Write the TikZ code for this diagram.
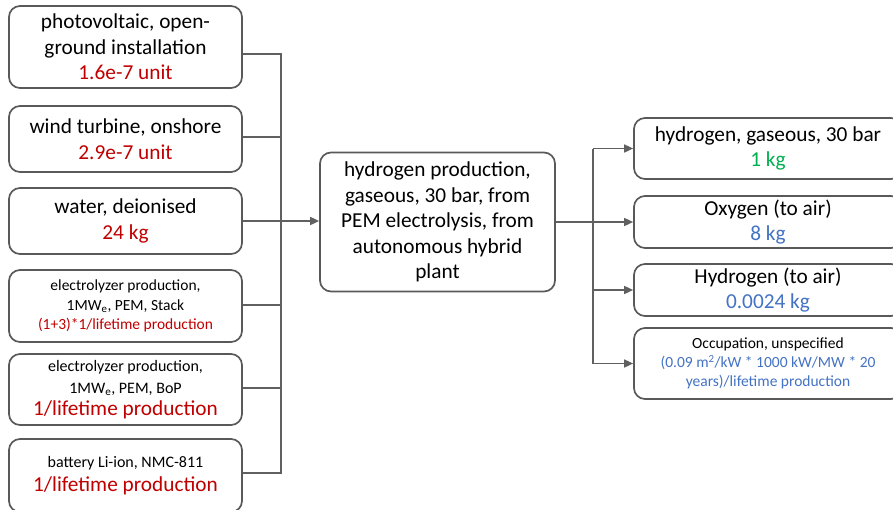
\documentclass[tikz,border=0pt]{standalone}
\usepackage{fontspec}
\setmainfont{Carlito}
\usetikzlibrary{arrows.meta,calc}
\definecolor{boxline}{HTML}{595959}
\definecolor{connc}{HTML}{606060}
\definecolor{qred}{HTML}{C00000}
\definecolor{qgreen}{HTML}{00B050}
\definecolor{qblue}{HTML}{4472C4}
\begin{document}
\begin{tikzpicture}[x=1pt,y=-1pt,
 box/.style={draw=boxline, line width=1.7pt, rounded corners=11pt, fill=white, align=center, inner sep=0pt},
 big/.style={font=\fontsize{21.3}{25.5}\selectfont},
 small/.style={font=\fontsize{15.5}{19.5}\selectfont},
 conn/.style={draw=connc, line width=1.6pt},
 arr/.style={conn, -{Triangle[length=9pt,width=8pt]}}]
\useasboundingbox (0,0) rectangle (893,509);
% left inputs
\node[box, big, minimum width=233pt, minimum height=82pt] (b1) at (125.5,47)
 {photovoltaic, open-\\ground installation\\\textcolor{qred}{1.6e-7 unit}};
\node[box, big, minimum width=233pt, minimum height=66pt] (b2) at (125.5,139)
 {wind turbine, onshore\\\textcolor{qred}{2.9e-7 unit}};
\node[box, big, minimum width=233pt, minimum height=66pt] (b3) at (125.5,221)
 {water, deionised\\\textcolor{qred}{24 kg}};
\node[box, small, minimum width=233pt, minimum height=72pt] (b4) at (125.5,306)
 {electrolyzer production,\\1MW\textsubscript{e}, PEM, Stack\\\textcolor{qred}{(1+3)*1/lifetime production}};
\node[box, font=\fontsize{16}{22}\selectfont, minimum width=233pt, minimum height=71pt] (b5) at (125.5,389.5)
 {electrolyzer production,\\1MW\textsubscript{e}, PEM, BoP\\\fontsize{21.3}{22}\selectfont\textcolor{qred}{1/lifetime production}};
\node[box, font=\fontsize{16}{24}\selectfont, minimum width=233pt, minimum height=73pt] (b6) at (125.5,475.5)
 {battery Li-ion, NMC-811\\\fontsize{21.3}{24}\selectfont\textcolor{qred}{1/lifetime production}};
% center
\node[box, big, minimum width=235pt, minimum height=139pt] (c) at (437.5,222)
 {hydrogen production,\\gaseous, 30 bar, from\\PEM electrolysis, from\\autonomous hybrid\\plant};
% outputs
\node[box, big, minimum width=268pt, minimum height=61pt] (rA) at (768,148.5)
 {hydrogen, gaseous, 30 bar\\\textcolor{qgreen}{1 kg}};
\node[box, big, minimum width=268pt, minimum height=52pt] (rB) at (768,222)
 {Oxygen (to air)\\\textcolor{qblue}{8 kg}};
\node[box, big, minimum width=268pt, minimum height=52pt] (rC) at (768,290)
 {Hydrogen (to air)\\\textcolor{qblue}{0.0024 kg}};
\node[box, font=\fontsize{15.5}{19}\selectfont, minimum width=268pt, minimum height=71pt] (rD) at (768,363.5)
 {Occupation, unspecified\\\textcolor{qblue}{(0.09 m\textsuperscript{2}/kW * 1000 kW/MW * 20}\\\textcolor{qblue}{years)/lifetime production}};
% input bus
\coordinate (busT) at (281,54);
\coordinate (busB) at (281,473);
\draw[conn] ($(b1.east)+(0,7)$) -- (busT) -- (busB) -- ($(b6.east)+(0,-2.5)$);
\draw[conn] ($(b2.east)+(0,-2)$) -| (busT);
\draw[conn] ($(b4.east)+(0,-1)$) -| (busT);
\draw[conn] ($(b5.east)+(0,-1.5)$) -| (busT);
\draw[arr] (b3.east) -- (b3.east -| c.west);
% output bus
\coordinate (obT) at (593,148.5);
\coordinate (obB) at (593,363.5);
\draw[conn] (c.east) -- (c.east -| obT);
\draw[arr] (obT) -- (rA.west);
\draw[arr] (rB.west -| obT) -- (rB.west);
\draw[arr] (rC.west -| obT) -- (rC.west);
\draw[arr] (obB) -- (rD.west);
\draw[conn] (obT) -- (obB);
\end{tikzpicture}
\end{document}
